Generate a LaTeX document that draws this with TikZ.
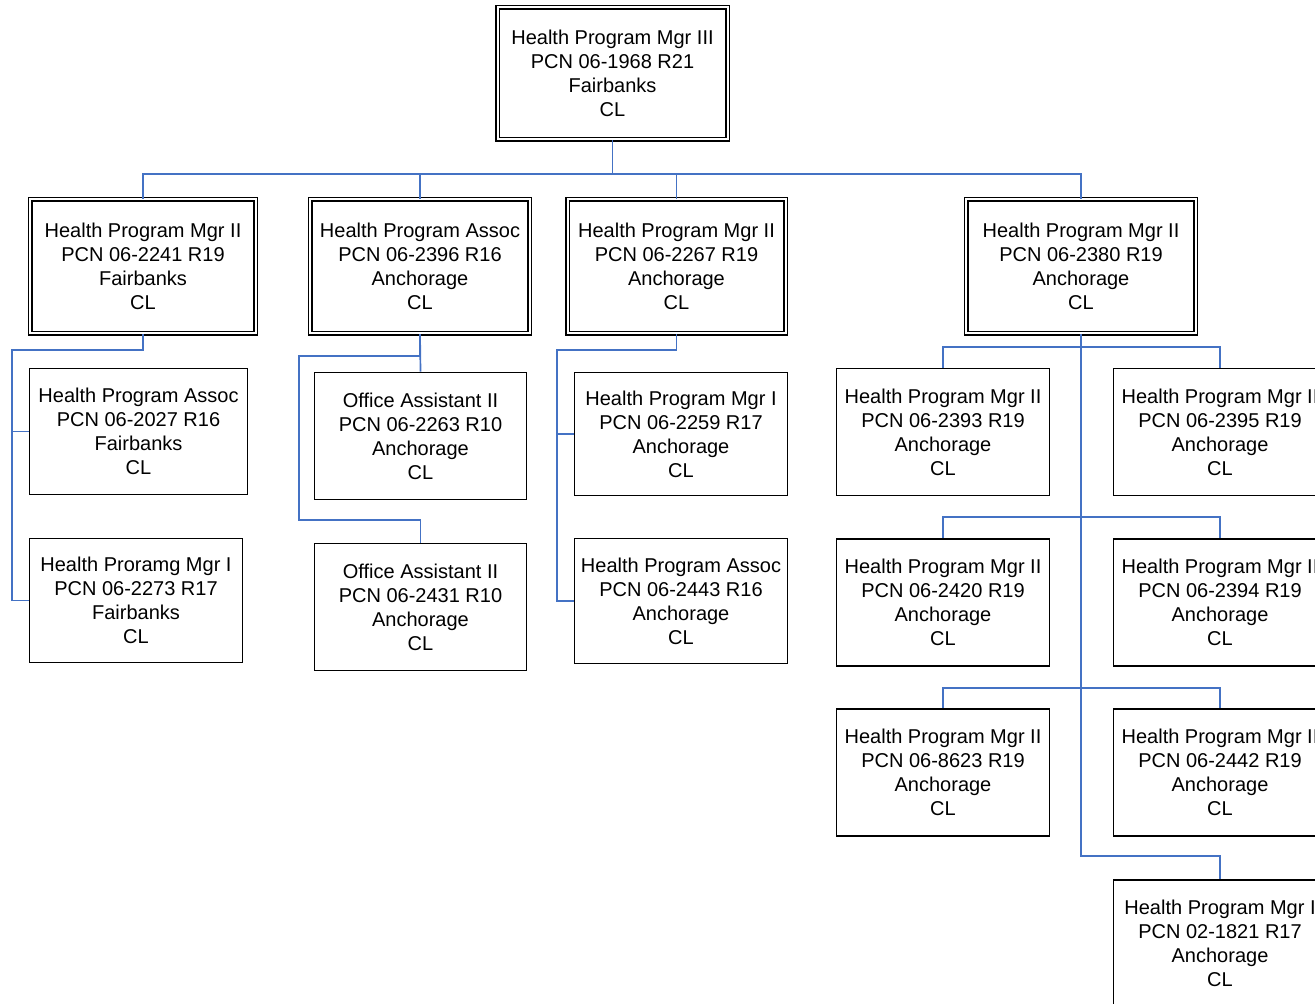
\documentclass[tikz,border=0pt]{standalone}
\usepackage{fontspec}
\setmainfont{Liberation Sans}
\definecolor{linkblue}{RGB}{68,114,196}

\begin{document}
\begin{tikzpicture}[x=0.5pt,y=-0.5pt,
    box/.style={draw,line width=0.8pt,inner sep=0pt,align=center,
        font=\fontsize{10}{12}\selectfont},
    dbox/.style={box,double,line width=0.7pt,double distance=1pt},
    link/.style={draw=linkblue,line width=0.85pt}]
 \clip (0,0) rectangle (1315,1004);
 % manager
 \node[dbox,minimum width=115pt,minimum height=66pt] (top) at (612.5,73.5)
    {Health Program Mgr III\\PCN 06-1968 R21\\Fairbanks\\CL};
 % second row
 \node[dbox,minimum width=112.6pt,minimum height=67pt] (a) at (143,266.5)
    {Health Program Mgr II\\PCN 06-2241 R19\\Fairbanks\\CL};
 \node[dbox,minimum width=109.7pt,minimum height=67pt] (b) at (420,266.5)
    {Health Program Assoc\\PCN 06-2396 R16\\Anchorage\\CL};
 \node[dbox,minimum width=109pt,minimum height=67pt] (c) at (676.5,266.5)
    {Health Program Mgr II\\PCN 06-2267 R19\\Anchorage\\CL};
 \node[dbox,minimum width=114.7pt,minimum height=67pt] (d) at (1081,266.5)
    {Health Program Mgr II\\PCN 06-2380 R19\\Anchorage\\CL};
 % under a
 \node[box,minimum width=109pt,minimum height=63pt] (a1) at (138.5,431.5)
    {Health Program Assoc\\PCN 06-2027 R16\\Fairbanks\\CL};
 \node[box,minimum width=106.5pt,minimum height=62pt] (a2) at (136,600.5)
    {Health Proramg Mgr I\\PCN 06-2273 R17\\Fairbanks\\CL};
 % under b
 \node[box,minimum width=106pt,minimum height=63.5pt] (b1) at (420.5,436)
    {Office Assistant II\\PCN 06-2263 R10\\Anchorage\\CL};
 \node[box,minimum width=106pt,minimum height=63.5pt] (b2) at (420.5,607)
    {Office Assistant II\\PCN 06-2431 R10\\Anchorage\\CL};
 % under c
 \node[box,minimum width=106.5pt,minimum height=61.5pt] (c1) at (681,434)
    {Health Program Mgr I\\PCN 06-2259 R17\\Anchorage\\CL};
 \node[box,minimum width=106.5pt,minimum height=62.5pt] (c2) at (681,601)
    {Health Program Assoc\\PCN 06-2443 R16\\Anchorage\\CL};
 % under d
 \node[box,minimum width=106.5pt,minimum height=63.5pt] (d1) at (943,432)
    {Health Program Mgr II\\PCN 06-2393 R19\\Anchorage\\CL};
 \node[box,minimum width=106.5pt,minimum height=63.5pt] (d2) at (1220,432)
    {Health Program Mgr II\\PCN 06-2395 R19\\Anchorage\\CL};
 \node[box,minimum width=106.5pt,minimum height=63.5pt] (d3) at (943,602.5)
    {Health Program Mgr II\\PCN 06-2420 R19\\Anchorage\\CL};
 \node[box,minimum width=106.5pt,minimum height=63.5pt] (d4) at (1220,602.5)
    {Health Program Mgr II\\PCN 06-2394 R19\\Anchorage\\CL};
 \node[box,minimum width=106.5pt,minimum height=63.5pt] (d5) at (943,772.5)
    {Health Program Mgr II\\PCN 06-8623 R19\\Anchorage\\CL};
 \node[box,minimum width=106.5pt,minimum height=63.5pt] (d6) at (1220,772.5)
    {Health Program Mgr II\\PCN 06-2442 R19\\Anchorage\\CL};
 \node[box,minimum width=106.5pt,minimum height=63.5pt] (d7) at (1220,943.5)
    {Health Program Mgr I\\PCN 02-1821 R17\\Anchorage\\CL};

 % connectors
 \foreach \n in {a,b,c,d} \draw[link] (top.south) -- ++(0,34) -| (\n.north);
 \draw[link] (a.south) -- ++(0,16) -| ([xshift=-8.5pt]a2.west) -- (a2.west);
 \draw[link] ([xshift=-8.5pt]a1.west) -- (a1.west);
 \draw[link] (b.south) -- (b1.north);
 \draw[link] (b.south) -- ++(0,22) -| ++(-121,164) -| (b2.north);
 \draw[link] (c.south) -- ++(0,16) -| ([xshift=-8.5pt]c2.west) -- (c2.west);
 \draw[link] ([xshift=-8.5pt]c1.west) -- (c1.west);
 \coordinate (j1) at (1081,347);
 \coordinate (j2) at (1081,517);
 \coordinate (j3) at (1081,688);
 \draw[link,line width=1.1pt] (d.south) -- ++(0,522) -| (d7.north);
 \foreach \j/\l/\r in {j1/d1/d2,j2/d3/d4,j3/d5/d6}
   \draw[link] (\l.north) |- (\j) -| (\r.north);
\end{tikzpicture}
\end{document}
